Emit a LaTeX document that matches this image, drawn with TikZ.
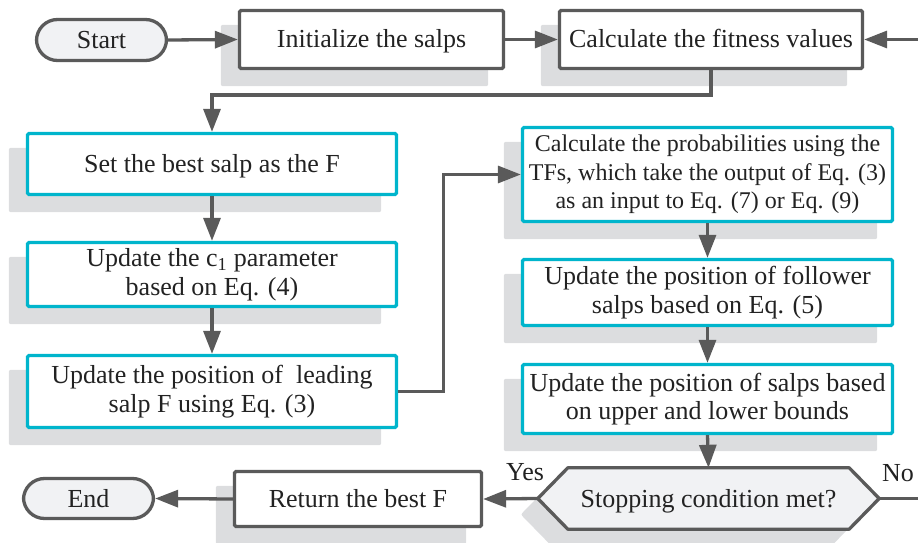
\documentclass[tikz,border=0pt]{standalone}
\usepackage{fontspec}
\setmainfont{Liberation Serif}
\usetikzlibrary{arrows.meta,backgrounds}
\definecolor{lc}{HTML}{5A5A5A}
\definecolor{cy}{HTML}{00B5CC}
\definecolor{sh}{HTML}{DCDDDF}
\definecolor{pf}{HTML}{F1F2F4}
\definecolor{tx}{HTML}{222222}
\pgfdeclarelayer{shadowlayer}
\pgfsetlayers{shadowlayer,background,main}
\newcommand\boxshadow[1]{\fill[sh, rounded corners=2bp] ([shift={(-17,16)}]#1.south west) rectangle ([shift={(-17,16)}]#1.north east);}
\begin{document}
\begin{tikzpicture}[x=1bp,y=-1bp,
  every node/.style={font=\fontsize{26bp}{28.5bp}\selectfont, text=tx, align=center, inner sep=0pt},
  oneline/.style={text height=23bp, text depth=6bp},
  graybox/.style={draw=lc, line width=3.3bp, fill=white, rounded corners=1.5bp},
  cybox/.style={draw=cy, line width=3.3bp, fill=white, rounded corners=1.5bp},
  pill/.style={draw=lc, line width=3.3bp, fill=pf, rounded corners=21bp},
  conn/.style={draw=lc, line width=3.3bp, -{Triangle[length=23bp,width=17bp]}},
  plainline/.style={draw=lc, line width=3.3bp},
  hexshape/.style={draw=lc, line width=3.3bp, fill=pf, line join=round},
]
\useasboundingbox (0,0) rectangle (918,543);

% nodes
\node[pill, oneline, minimum width=130bp, minimum height=41bp] (start) at (101.5,40) {Start};
\node[graybox, oneline, minimum width=264bp, minimum height=58bp] (init) at (371.5,39.5) {Initialize the salps};
\node[graybox, oneline, minimum width=303bp, minimum height=58bp] (fit) at (711,39.5) {Calculate the fitness values};

\node[cybox, oneline, minimum width=369bp, minimum height=61bp] (set) at (212,164) {Set the best salp as the F};
\node[cybox, minimum width=369bp, minimum height=64bp] (c1) at (212,274.5) {Update the c\textsubscript{1} parameter\\based on Eq. (4)};
\node[cybox, minimum width=369bp, minimum height=72bp] (lead) at (212,391.5) {Update the position of\ \ leading\\salp F using Eq. (3)};

\node[cybox, minimum width=370bp, minimum height=94bp, font=\fontsize{24bp}{28.5bp}\selectfont] (tf) at (707.5,174.5) {Calculate the probabilities using the\\TFs, which take the output of Eq. (3)\\as an input to Eq. (7) or Eq. (9)};
\node[cybox, minimum width=370bp, minimum height=66bp] (fol) at (707.5,292.5) {Update the position of follower\\salps based on Eq. (5)};
\node[cybox, minimum width=370bp, minimum height=69bp] (bnd) at (707.5,399) {Update the position of salps based\\on upper and lower bounds};

\node[oneline, minimum width=341bp, minimum height=61bp] (dec) at (708.5,498.5) {Stopping condition met?};
\node[graybox, oneline, minimum width=247bp, minimum height=55bp] (ret) at (358,499) {Return the best F};
\node[pill, oneline, minimum width=130bp, minimum height=40bp] (end) at (88.5,498.5) {End};

\node[oneline] (yes) at (525,472) {Yes};
\node[oneline] (no) at (898,473) {No};

\coordinate (rin) at (918,39.5);
\coordinate (rout) at (918,498.5);

% hexagon
\begin{pgfonlayer}{background}
\draw[hexshape] (dec.west) -- ([xshift=30bp]dec.north west) -- ([xshift=-30bp]dec.north east) -- (dec.east) -- ([xshift=-30bp]dec.south east) -- ([xshift=30bp]dec.south west) -- cycle;
\end{pgfonlayer}

% shadows
\begin{pgfonlayer}{shadowlayer}
\boxshadow{init}
\boxshadow{fit}
\boxshadow{set}
\boxshadow{c1}
\boxshadow{lead}
\boxshadow{tf}
\boxshadow{fol}
\boxshadow{bnd}
\boxshadow{ret}
\fill[sh, rounded corners=2bp] ([shift={(-17,16)}]dec.west) -- ([shift={(13,16)}]dec.north west) -- ([shift={(-47,16)}]dec.north east) -- ([shift={(-17,16)}]dec.east) -- ([shift={(-47,16)}]dec.south east) -- ([shift={(13,16)}]dec.south west) -- cycle;
\end{pgfonlayer}

% connectors
\draw[conn] (start.east) -- (init.west);
\draw[conn] (init.east) -- (fit.west);
\draw[conn] (rin) -- (fit.east);
\draw[conn] (fit.south) -- ++(0,25) -| (set.north);
\draw[conn] (set.south) -- (c1.north);
\draw[conn] (c1.south) -- (lead.north);
\draw[conn] (lead.east) -- ++(45,0) |- (tf.west);
\draw[conn] (tf.south) -- (fol.north);
\draw[conn] (fol.south) -- (bnd.north);
\draw[conn] (bnd.south) -- (dec.north);
\draw[conn] (dec.west) -- (ret.east);
\draw[plainline] (dec.east) -- (rout);
\draw[conn] (ret.west) -- (end.east);
\end{tikzpicture}
\end{document}
